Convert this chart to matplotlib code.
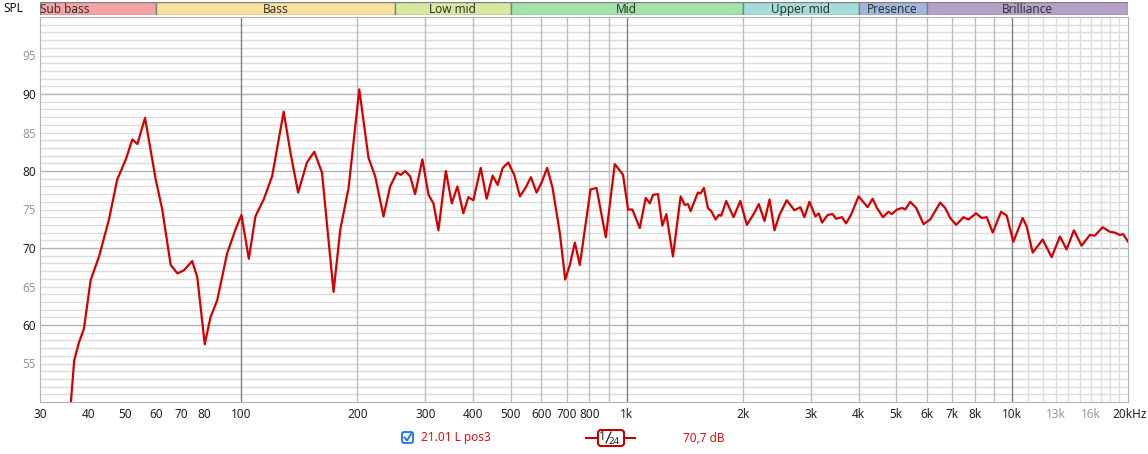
import numpy as np
import matplotlib
matplotlib.use("Agg")
import matplotlib.pyplot as plt
from matplotlib.patches import FancyBboxPatch, Rectangle

plt.rcParams['font.family'] = ['Noto Sans', 'DejaVu Sans']
plt.rcParams['font.size'] = 8.5

freq = [36.1, 36.8, 37.9, 39.0, 40.6, 42.7, 45.3, 47.6, 50.1, 52.1, 53.7, 56.2,
        59.9, 62.3, 65.5, 68.2, 70.9, 74.5, 76.8, 80.3, 83.1, 86.5, 91.8, 96.5,
        100, 104.5, 108.7, 114.2, 120.1, 128.7, 134.0, 140.3, 147.9, 154.5, 161.8,
        173.4, 180.5, 189.7, 202.2, 213.7, 222.4, 233.7, 243.2, 253.2, 259.3,
        266.0, 274.1, 282.3, 294.9, 305.8, 315.0, 324.5, 339.2, 351.5, 363.5,
        376.6, 388.1, 399.8, 417.8, 433.0, 448.7, 462.4, 476.4, 492.5, 510.5,
        528.2, 547.4, 564.0, 583.4, 601.2, 621.6, 642.0, 670.6, 692.2, 711.8,
        733.4, 755.5, 805.4, 834.7, 882.4, 931.0, 978.1, 1008, 1034, 1081, 1120,
        1148, 1170, 1205, 1237, 1267, 1318, 1380, 1414, 1442, 1465, 1530, 1555,
        1586, 1624, 1657, 1701, 1734, 1759, 1812, 1893, 1971, 2050, 2146, 2202,
        2278, 2348, 2418, 2491, 2602, 2724, 2823, 2892, 2980, 3088, 3150, 3214,
        3323, 3423, 3493, 3620, 3708, 3820, 3997, 4219, 4347, 4462, 4624, 4780,
        4878, 5028, 5180, 5284, 5443, 5641, 5893, 6132, 6510, 6707, 6911, 7162,
        7481, 7707, 8066, 8345, 8598, 8912, 9366, 9688, 10078, 10658, 10917,
        11314, 12010, 12671, 13317, 13859, 14475, 15156, 15925, 16406, 17180,
        17945, 18487, 19048, 19424, 20015]
spl = [50.1, 55.4, 57.8, 59.5, 65.8, 68.9, 73.7, 78.9, 81.5, 84.1, 83.5, 86.9,
       78.9, 75.0, 67.8, 66.7, 67.1, 68.3, 66.2, 57.5, 61.0, 63.2, 69.3, 72.4,
       74.3, 68.6, 74.1, 76.3, 79.3, 87.7, 82.4, 77.2, 81.1, 82.5, 79.8,
       64.3, 72.4, 77.8, 90.6, 81.7, 79.3, 74.1, 78.0, 79.8, 79.5,
       80.0, 79.3, 77.0, 81.5, 76.9, 75.8, 72.3, 80.0, 75.8, 78.0,
       74.5, 76.6, 76.2, 80.4, 76.4, 79.4, 78.2, 80.4, 81.1, 79.5,
       76.7, 77.9, 79.2, 77.2, 78.5, 80.4, 77.8, 71.9, 65.9, 67.8,
       70.7, 67.8, 77.6, 77.8, 71.4, 80.9, 79.5, 75.0, 75.0, 72.6, 76.5,
       75.8, 76.9, 77.0, 72.9, 74.4, 68.9, 76.7, 75.6, 75.7, 74.8, 77.2, 77.1,
       77.8, 75.2, 74.8, 73.7, 74.3, 74.2, 76.1, 74.0, 76.1, 73.0, 74.6, 75.7,
       73.5, 76.3, 72.3, 74.3, 76.2, 74.9, 75.3, 74.0, 76.0, 74.1, 74.5, 73.3,
       74.3, 74.4, 73.8, 74.0, 73.2, 74.3, 76.7, 75.3, 76.4, 75.2, 74.0, 74.7,
       74.4, 75.0, 75.2, 75.0, 76.0, 75.2, 73.1, 73.7, 75.9, 75.2, 73.9, 73.0,
       74.0, 73.7, 74.5, 73.9, 74.0, 72.0, 74.7, 74.2, 70.8, 73.9, 72.8,
       69.4, 71.1, 68.8, 71.5, 69.8, 72.3, 70.3, 71.7, 71.6, 72.7,
       72.1, 72.0, 71.7, 71.8, 70.8]

bands = ["Sub bass", "Bass", "Low mid", "Mid", "Upper mid", "Presence", "Brilliance"]
band_edges = [30, 60, 250, 500, 2000, 4000, 6000, 20000]
band_colors = ["#f5a3a3", "#f8e2a0", "#d5eaa0", "#a2e3ac", "#a3dfd8", "#a3b6dc", "#b4a1c8"]

xticks = [30, 40, 50, 60, 70, 80, 100, 200, 300, 400, 500, 600, 700, 800, 1000,
          2000, 3000, 4000, 5000, 6000, 7000, 8000, 10000, 13000, 16000]
xlabels = ["30", "40", "50", "60", "70", "80", "100", "200", "300", "400", "500",
           "600", "700", "800", "1k", "2k", "3k", "4k", "5k", "6k", "7k", "8k",
           "10k", "13k", "16k"]

W, H = 1148, 454
fig = plt.figure(figsize=(W / 100, H / 100), dpi=100)
fig.patch.set_facecolor("white")

def px_axes(l, t, r, b):
    return fig.add_axes([l / W, 1 - b / H, (r - l) / W, (b - t) / H])

ax = px_axes(40, 17, 1128, 402)
ax.set_xscale("log")
ax.set_xlim(30, 20000)
ax.set_ylim(50, 100)

# grid
for v in range(51, 100):
    c = "#b4b4b4" if v % 10 == 0 else "#dcdcdc"
    ax.axhline(v, color=c, lw=1, zorder=1)
grid_f = [f for dec in (10, 100, 1000) for f in np.arange(1, 10) * dec * 10
          if 30 <= f <= 10000]
for f in grid_f:
    c = "#808080" if f in (100, 1000, 10000) else "#bebebe"
    ax.axvline(f, color=c, lw=1, zorder=1)
for f in range(11000, 20000, 1000):
    ax.axvline(f, color="#dcdcdc", lw=1, zorder=1)

ax.plot(freq, spl, color="#d40000", lw=1.6, zorder=3, solid_joinstyle="round")

for s in ax.spines.values():
    s.set_color("#b4b4b4")
ax.tick_params(length=0)
ax.set_xticks(xticks)
ax.set_xticklabels(xlabels)
ax.xaxis.set_minor_locator(matplotlib.ticker.NullLocator())
ax.tick_params(axis="x", pad=4, labelcolor="#222222")
for lab, f in zip(ax.get_xticklabels(), xticks):
    if f in (13000, 16000):
        lab.set_color("#999999")
yt = list(range(55, 100, 5))
ax.set_yticks(yt)
ax.set_yticklabels([str(v) for v in yt])
ax.tick_params(axis="y", pad=3)
for lab, v in zip(ax.get_yticklabels(), yt):
    lab.set_color("#222222" if v % 10 == 0 else "#999999")
ax.annotate("20kHz", xy=(20000, 50), xytext=(-11, -4), textcoords="offset points",
            ha="left", va="top", color="#222222", annotation_clip=False)

# band header
bx = px_axes(40, 2, 1128, 15)
bx.set_xscale("log")
bx.set_xlim(30, 20000)
bx.set_ylim(0, 1)
bx.set_axis_off()
for name, lo, hi, col in zip(bands, band_edges[:-1], band_edges[1:], band_colors):
    bx.add_patch(Rectangle((lo, 0), hi - lo, 1, facecolor=col, edgecolor="#808080", lw=1))
    mid = np.sqrt(lo * hi) if name != "Sub bass" else lo
    bx.text(mid, 0.45, name, ha="center" if name != "Sub bass" else "left",
            va="center", color="#333333", fontsize=8.5)
fig.text(3 / W, 1 - 8 / H, "SPL", ha="left", va="center", fontsize=8.5, color="#111111")

# legend row in pixel coordinates
ov = fig.add_axes([0, 0, 1, 1])
ov.set_xlim(0, W)
ov.set_ylim(H, 0)
ov.set_axis_off()
ov.add_patch(FancyBboxPatch((402, 432), 11, 11, boxstyle="round,pad=0,rounding_size=2",
                            facecolor="white", edgecolor="#1a73e8", lw=1.3))
ov.plot([404.5, 407, 411], [437.5, 440.5, 434], color="#1a73e8", lw=1.3)
ov.text(421, 438, "21.01 L pos3", color="#e01010", ha="left", va="center")
ov.plot([586, 598], [438, 438], color="#c00000", lw=1.5)
ov.plot([624, 635], [438, 438], color="#c00000", lw=1.5)
ov.add_patch(FancyBboxPatch((598, 430), 26, 16, boxstyle="round,pad=0,rounding_size=3",
                            facecolor="white", edgecolor="#c00000", lw=1.5))
ov.text(606, 436, "1", color="#222222", ha="right", va="center", fontsize=8.5)
ov.plot([606, 611], [443, 432], color="#222222", lw=0.9)
ov.text(609, 441, "24", color="#222222", ha="left", va="center", fontsize=7)
ov.text(683, 438, "70,7 dB", color="#e01010", ha="left", va="center")

fig.savefig("out.png", dpi=100)
